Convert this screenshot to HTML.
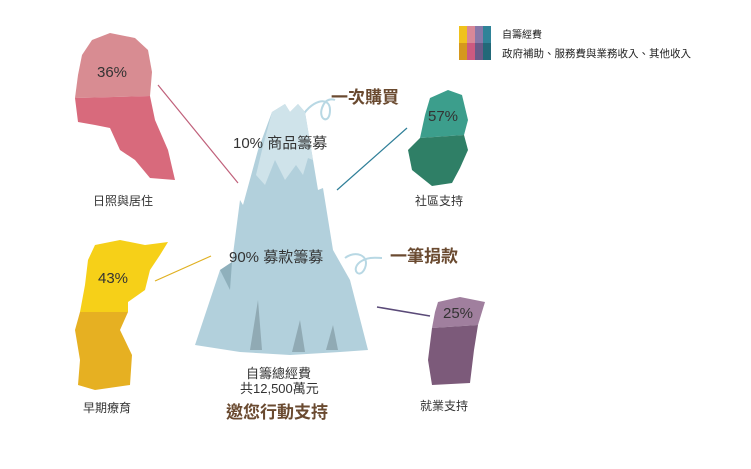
<!DOCTYPE html>
<html><head><meta charset="utf-8"><style>
body{margin:0;background:#fff;}
svg text{font-family:"Liberation Sans","Noto Sans CJK TC",sans-serif;}
</style></head><body>
<svg width="751" height="464" viewBox="0 0 751 464" xmlns="http://www.w3.org/2000/svg">
<!-- legend -->
<rect x="459" y="26" width="8" height="17" fill="#f0c21c"/><rect x="467" y="26" width="8" height="17" fill="#d88898"/><rect x="475" y="26" width="8" height="17" fill="#8878a8"/><rect x="483" y="26" width="8" height="17" fill="#2f8398"/>
<rect x="459" y="43" width="8" height="17" fill="#d5981c"/><rect x="467" y="43" width="8" height="17" fill="#cc5a80"/><rect x="475" y="43" width="8" height="17" fill="#6a5a88"/><rect x="483" y="43" width="8" height="17" fill="#226878"/>
<text x="502" y="38" font-size="10" fill="#222">自籌經費</text>
<text x="502" y="57" font-size="10.5" fill="#222">政府補助、服務費與業務收入、其他收入</text>
<!-- connector lines -->
<line x1="158" y1="85" x2="238" y2="183" stroke="#c0607a" stroke-width="1.2"/>
<line x1="337" y1="190" x2="407" y2="128" stroke="#2f7f98" stroke-width="1.2"/>
<line x1="155" y1="281" x2="211" y2="256" stroke="#e0b020" stroke-width="1.2"/>
<line x1="377" y1="307" x2="430" y2="316" stroke="#5a4a78" stroke-width="1.5"/>
<!-- curls -->
<path d="M300 120 C310 100,330 95,330 110 C330 125,318 120,322 108 C326 96,335 100,335 100" fill="none" stroke="#b8d8e4" stroke-width="2"/>
<path d="M345 258 C355 250,370 255,365 268 C360 280,350 270,360 262 C368 256,378 258,382 258" fill="none" stroke="#b8d8e4" stroke-width="2"/>
<!-- mountain -->
<polygon points="272,112 285,104 290,112 298,104 305,112 318,190 323,188 333,250 350,280 368,350 340,352 290,355 240,352 195,345 220,270 232,262 240,200 243,205 258,150" fill="#b2d0dc"/>
<path d="M272,112 285,104 290,112 298,104 305,112 313,160 308,158 303,175 296,165 285,180 275,160 265,185 256,175 262,150 Z" fill="#cfe3ea"/>
<polygon points="220,270 232,262 230,290" fill="#8fb0bc"/>
<polygon points="258,300 262,350 250,350" fill="#90aab4"/>
<polygon points="300,320 305,352 292,352" fill="#90aab4"/>
<polygon points="333,325 338,350 326,350" fill="#90aab4"/>
<text x="233" y="148" font-size="15" fill="#333">10% 商品籌募</text>
<text x="229" y="262" font-size="15" fill="#333">90% 募款籌募</text>
<text x="331" y="103" font-size="17" font-weight="bold" fill="#6a4a30">一次購買</text>
<text x="390" y="262" font-size="17" font-weight="bold" fill="#6a4a30">一筆捐款</text>
<text x="246" y="378" font-size="13" fill="#333">自籌總經費</text>
<text x="240" y="393" font-size="13" fill="#333">共12,500萬元</text>
<text x="226" y="418" font-size="17" font-weight="bold" fill="#6a4a30">邀您行動支持</text>
<!-- pink -->
<path d="M92,40 L110,33 L135,38 L148,50 L152,72 L150,96 L75,98 L78,75 L82,55 Z" fill="#d88c92"/>
<path d="M75,98 L150,96 L155,120 L168,150 L175,180 L150,178 L135,160 L120,150 L110,128 L95,125 L78,122 Z" fill="#d86a7c"/>
<text x="97" y="77" font-size="15" fill="#333">36%</text>
<text x="93" y="205" font-size="12" fill="#333">日照與居住</text>
<!-- yellow -->
<path d="M95,245 L120,240 L145,245 L168,242 L160,255 L150,270 L145,290 L128,302 L128,312 L80,312 L85,285 L88,260 Z" fill="#f6d018"/>
<path d="M80,312 L128,312 L120,330 L132,355 L130,385 L95,390 L78,385 L80,360 L75,330 Z" fill="#e6b022"/>
<text x="98" y="283" font-size="15" fill="#333">43%</text>
<text x="83" y="412" font-size="12" fill="#333">早期療育</text>
<!-- teal -->
<path d="M430,98 L448,90 L462,95 L468,120 L464,135 L420,138 L425,115 Z" fill="#3c9e8c"/>
<path d="M420,138 L464,135 L468,150 L460,168 L452,183 L432,186 L412,170 L408,150 Z" fill="#2f7f66"/>
<text x="428" y="121" font-size="15" fill="#333">57%</text>
<text x="415" y="205" font-size="12" fill="#333">社區支持</text>
<!-- purple -->
<path d="M438,302 L460,297 L485,302 L478,325 L432,328 L435,312 Z" fill="#a07f9e"/>
<path d="M432,328 L478,325 L474,350 L470,383 L432,385 L428,360 Z" fill="#7c5a7a"/>
<text x="443" y="318" font-size="15" fill="#333">25%</text>
<text x="420" y="410" font-size="12" fill="#333">就業支持</text>
</svg>
</body></html>
